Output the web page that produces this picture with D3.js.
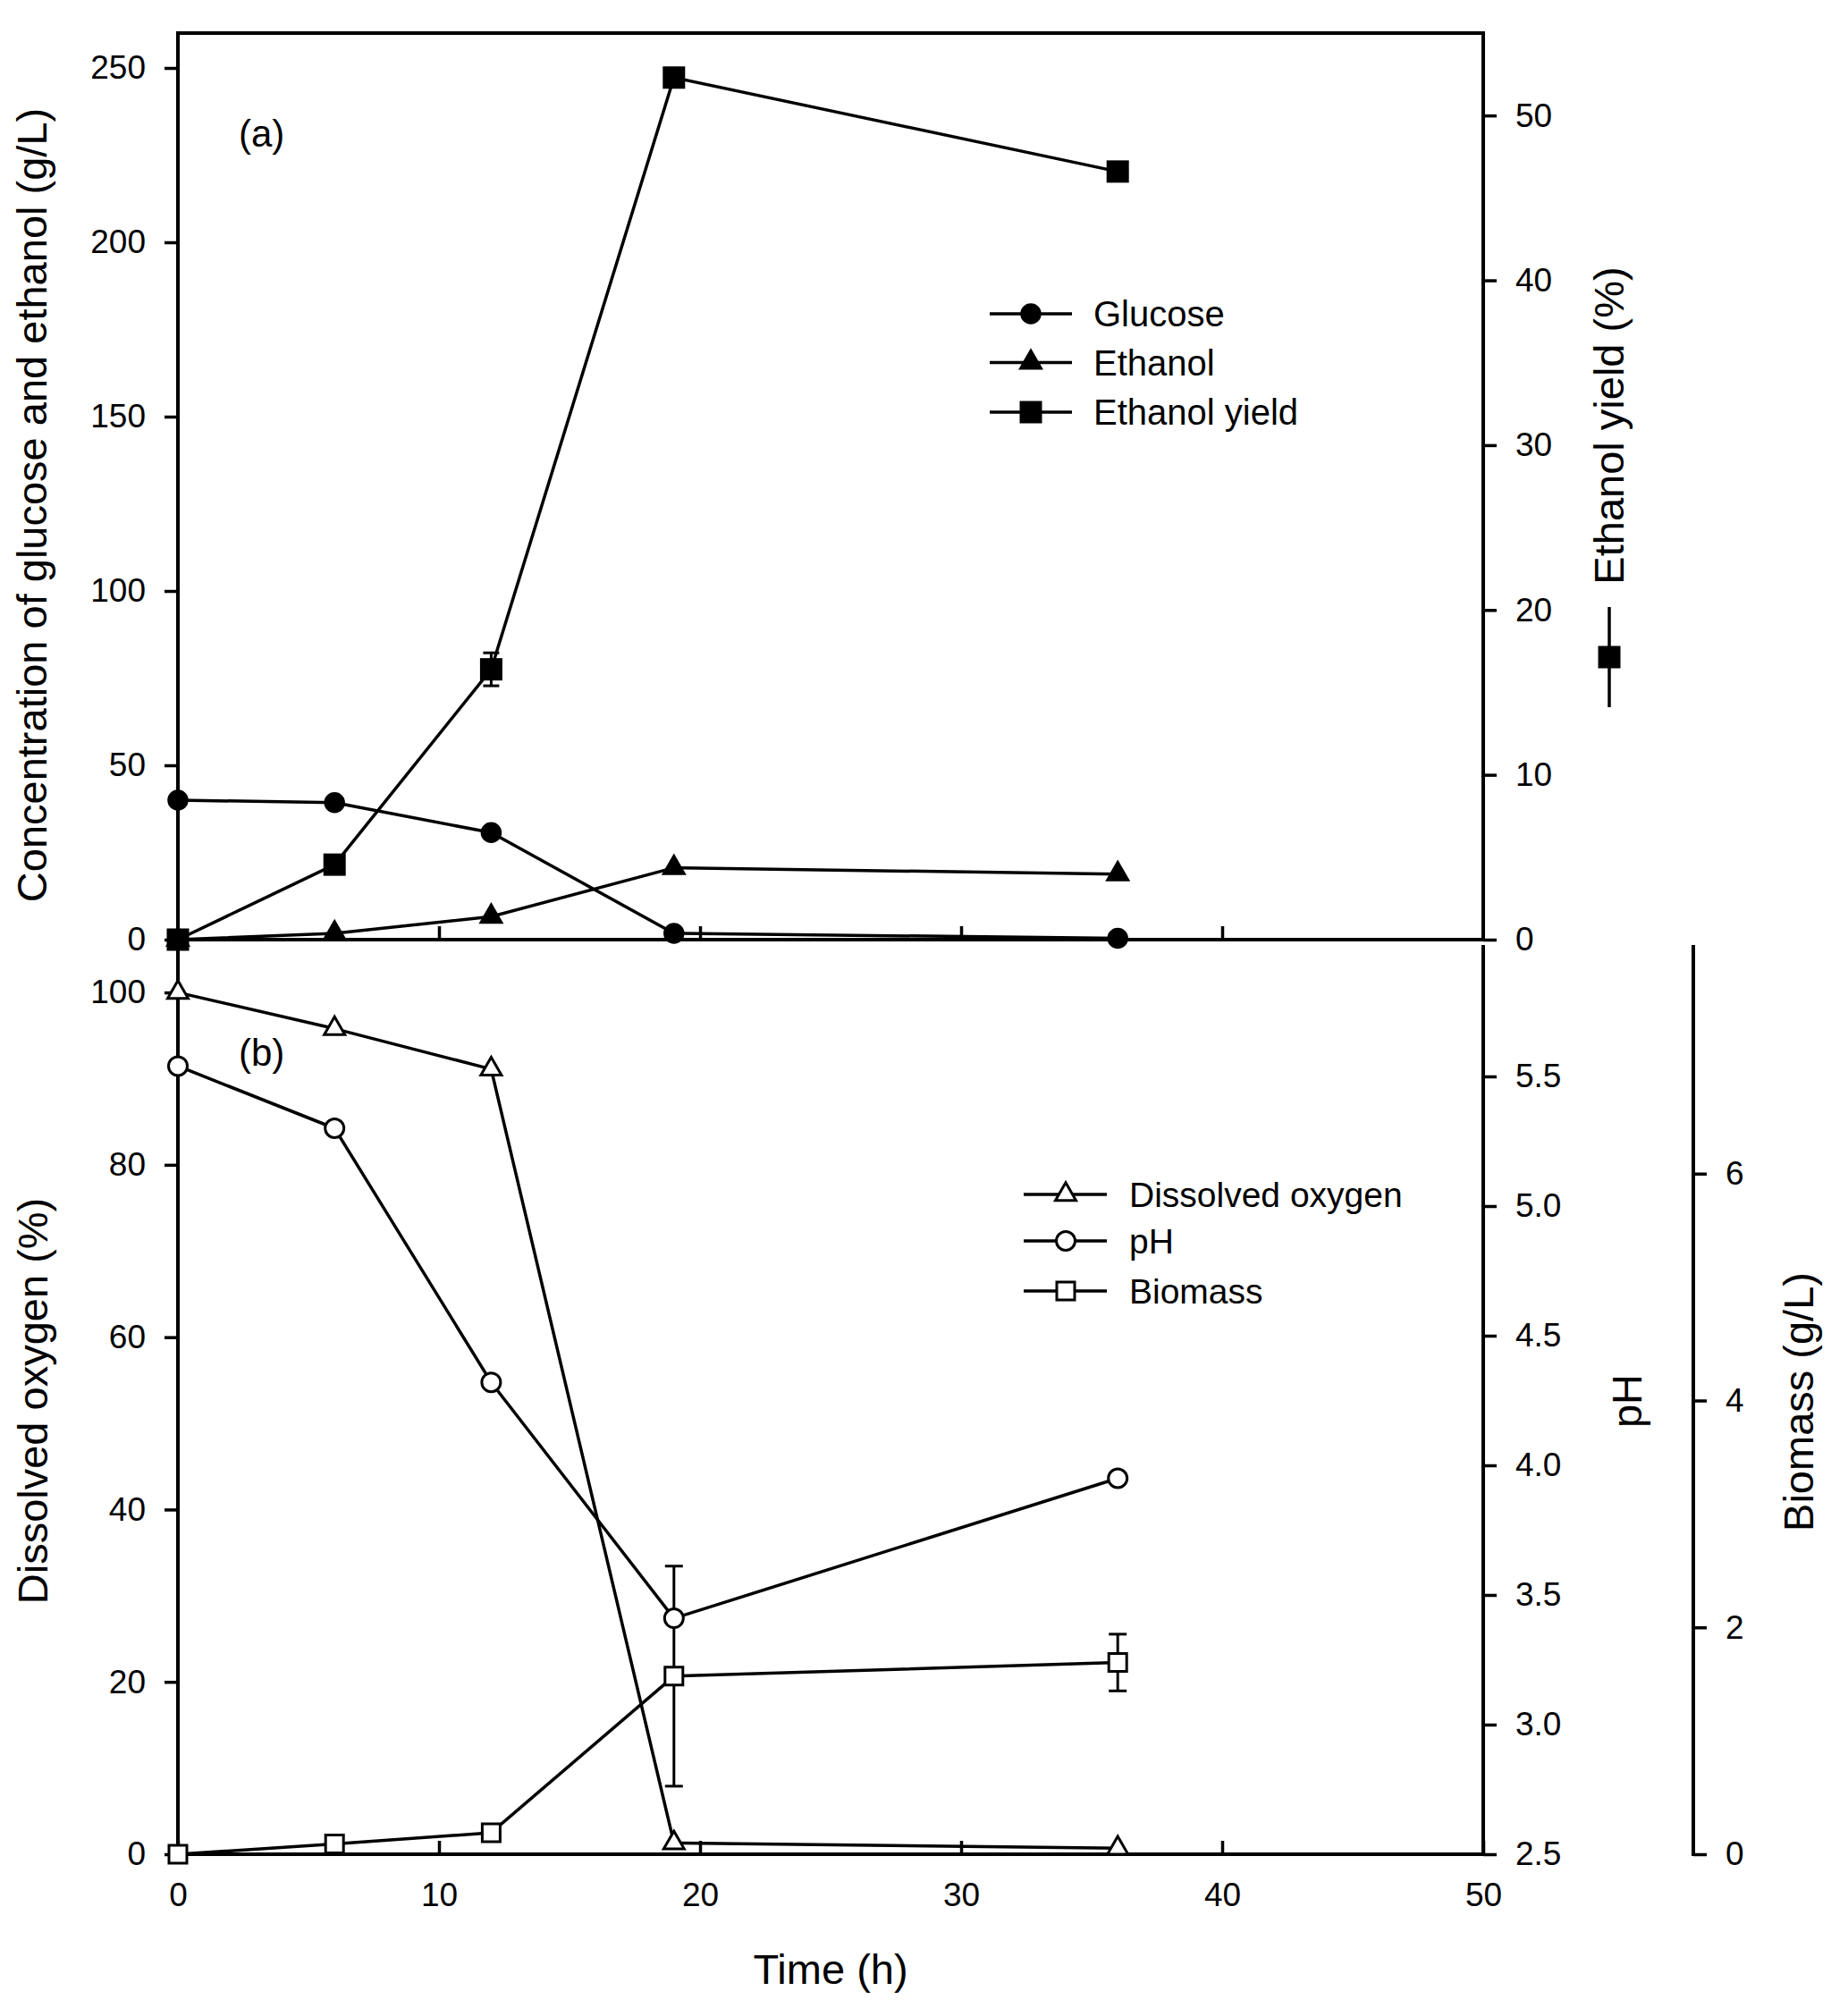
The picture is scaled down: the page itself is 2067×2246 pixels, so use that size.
<!DOCTYPE html>
<html>
<head>
<meta charset="utf-8">
<script src="https://cdn.jsdelivr.net/npm/d3@7/dist/d3.min.js"></script>
<style>
  html, body { margin: 0; padding: 0; background: #fff; }
  svg { display: block; }
  text { font-family: "Liberation Sans", Arial, sans-serif; fill: #000; }
</style>
</head>
<body>
<svg id="chart" width="2067" height="2246"></svg>
<script>
// ---- data ----
const time = [0, 6, 12, 19, 36];
const glucose = [40, 39.3, 30.7, 1.8, 0.4];
const ethanol = [0, 1.8, 6.6, 20.6, 18.8];
const ethanolYield = [0, 4.55, 16.4, 52.3, 46.6];
const ethanolYieldErr = [0, 0, 1.0, 0, 0];
const dissolvedOxygen = [100, 95.8, 91.1, 1.3, 0.7];
const pH = [5.54, 5.30, 4.32, 3.41, 3.95];
const biomass = [0, 0.09, 0.19, 1.57, 1.69];
const biomassErr = [0, 0, 0, 0.97, 0.25];

const xTicks = [0, 10, 20, 30, 40, 50];
const concTicks = [0, 50, 100, 150, 200, 250];
const yieldTicks = [0, 10, 20, 30, 40, 50];
const doTicks = [0, 20, 40, 60, 80, 100];
const phTicks = [2.5, 3.0, 3.5, 4.0, 4.5, 5.0, 5.5];
const bioTicks = [0, 2, 4, 6];

const legendA = ["Glucose", "Ethanol", "Ethanol yield"];
const legendB = ["Dissolved oxygen", "pH", "Biomass"];

// ---- layout ----
const svg = d3.select("#chart");
const L = 199, R = 1659, topA = 37, botA = 1051, topB = 1059, botB = 2074, bioX = 1894;

const x = d3.scaleLinear().domain([0, 50]).range([L, R]);
const yConc = d3.scaleLinear().domain([0, 260]).range([botA, topA]);
const yYield = d3.scaleLinear().domain([0, 55]).range([botA, topA]);
const yDO = d3.scaleLinear().domain([0, 105.3]).range([botB, topB]);
const yPH = d3.scaleLinear().domain([2.5, 6.0]).range([botB, topB]);
const yBio = d3.scaleLinear().domain([0, 8]).range([botB, topB]);

const TICK = 15, PAD = 21, TFS = 37;
const AXW = 4, LW = 3.5;

function styleAxis(g) {
  g.select(".domain").remove();
  g.selectAll(".tick line").attr("stroke", "#000").attr("stroke-width", LW);
  g.selectAll(".tick text").attr("font-size", TFS).attr("fill", "#000")
    .attr("font-family", '"Liberation Sans", Arial, sans-serif');
}

// axes (ticks + labels)
svg.append("g").attr("transform", `translate(${L},0)`)
  .call(d3.axisLeft(yConc).tickValues(concTicks).tickSize(TICK).tickPadding(PAD)).call(styleAxis);
svg.append("g").attr("transform", `translate(${R},0)`)
  .call(d3.axisRight(yYield).tickValues(yieldTicks).tickSize(TICK).tickPadding(PAD)).call(styleAxis);
svg.append("g").attr("transform", `translate(0,${botA})`)
  .call(d3.axisBottom(x).tickValues([10, 20, 30, 40]).tickSize(-TICK).tickFormat("")).call(styleAxis);

svg.append("g").attr("transform", `translate(${L},0)`)
  .call(d3.axisLeft(yDO).tickValues(doTicks).tickSize(TICK).tickPadding(PAD)).call(styleAxis);
svg.append("g").attr("transform", `translate(${R},0)`)
  .call(d3.axisRight(yPH).tickValues(phTicks).tickSize(TICK).tickPadding(PAD).tickFormat(d3.format(".1f"))).call(styleAxis);
svg.append("g").attr("transform", `translate(${bioX},0)`)
  .call(d3.axisRight(yBio).tickValues(bioTicks).tickSize(TICK).tickPadding(PAD)).call(styleAxis);
svg.append("g").attr("transform", `translate(0,${botB})`)
  .call(d3.axisBottom(x).tickValues(xTicks).tickSize(-TICK).tickPadding(32)).call(styleAxis);

// axis lines / frames
const frame = [
  [L, topA, R, topA], [L, topA, L, botB], [R, topA, R, botA], [L, botA, R, botA],
  [R, topB, R, botB], [L, botB, R, botB], [bioX, topB, bioX, botB]
];
svg.append("g").selectAll("line").data(frame).join("line")
  .attr("x1", d => d[0]).attr("y1", d => d[1]).attr("x2", d => d[2]).attr("y2", d => d[3])
  .attr("stroke", "#000").attr("stroke-width", AXW).attr("stroke-linecap", "square");

// ---- helpers ----
const tri = (side) => d3.symbol().type(d3.symbolTriangle).size(side * side * Math.sqrt(3) / 4)();
const circ = (diam) => d3.symbol().type(d3.symbolCircle).size(Math.PI * diam * diam / 4)();
const sq = (side) => d3.symbol().type(d3.symbolSquare).size(side * side)();

const markers = {
  fcircle: { d: circ(23.5), fill: "#000", sw: 0 },
  ftri: { d: tri(28), fill: "#000", sw: 0 },
  fsquare: { d: sq(25), fill: "#000", sw: 0 },
  otri: { d: tri(23), fill: "#fff", sw: 3 },
  ocircle: { d: circ(21), fill: "#fff", sw: 3 },
  osquare: { d: sq(20), fill: "#fff", sw: 3 }
};

function drawSeries(vals, yScale, mk, err, capW) {
  const pts = time.map((t, i) => [x(t), yScale(vals[i])]);
  svg.append("path").attr("d", d3.line()(pts)).attr("fill", "none")
    .attr("stroke", "#000").attr("stroke-width", LW).attr("stroke-linejoin", "round");
  if (err) {
    const g = svg.append("g").attr("stroke", "#000").attr("stroke-width", 3);
    time.forEach((t, i) => {
      if (!err[i]) return;
      const cx = x(t), y1 = yScale(vals[i] - err[i]), y2 = yScale(vals[i] + err[i]);
      g.append("line").attr("x1", cx).attr("x2", cx).attr("y1", y1).attr("y2", y2);
      g.append("line").attr("x1", cx - capW / 2).attr("x2", cx + capW / 2).attr("y1", y1).attr("y2", y1);
      g.append("line").attr("x1", cx - capW / 2).attr("x2", cx + capW / 2).attr("y1", y2).attr("y2", y2);
    });
  }
  return pts;
}
function drawMarkers(pts, mk) {
  const m = markers[mk];
  svg.append("g").selectAll("path").data(pts).join("path")
    .attr("d", m.d).attr("transform", d => `translate(${d[0]},${d[1]})`)
    .attr("fill", m.fill).attr("stroke", "#000").attr("stroke-width", m.sw);
}

// ---- panel a ----
const pG = drawSeries(glucose, yConc);
const pE = drawSeries(ethanol, yConc);
const pY = drawSeries(ethanolYield, yYield, "fsquare", ethanolYieldErr, 18);
drawMarkers(pG, "fcircle");
drawMarkers(pE, "ftri");
drawMarkers(pY, "fsquare");

// ---- panel b ----
const pDO = drawSeries(dissolvedOxygen, yDO);
const pPH = drawSeries(pH, yPH);
const pB = drawSeries(biomass, yBio, "osquare", biomassErr, 20);
drawMarkers(pDO, "otri");
drawMarkers(pPH, "ocircle");
drawMarkers(pB, "osquare");

// ---- legends ----
function legend(items, mks, x1, x2, mx, tx, rows, fs) {
  items.forEach((lab, i) => {
    const y = rows[i];
    svg.append("line").attr("x1", x1).attr("x2", x2).attr("y1", y).attr("y2", y)
      .attr("stroke", "#000").attr("stroke-width", LW);
    const m = markers[mks[i]];
    svg.append("path").attr("d", m.d).attr("transform", `translate(${mx},${y})`)
      .attr("fill", m.fill).attr("stroke", "#000").attr("stroke-width", m.sw);
    svg.append("text").attr("x", tx).attr("y", y).attr("dy", "0.36em")
      .attr("font-size", fs).text(lab);
  });
}
legend(legendA, ["fcircle", "ftri", "fsquare"], 1107, 1199, 1153, 1223, [351, 405.5, 461], 40);
legend(legendB, ["otri", "ocircle", "osquare"], 1145, 1238, 1192, 1263, [1336, 1388, 1444], 39);

// ---- panel labels ----
svg.append("text").attr("x", 267).attr("y", 163.5).attr("font-size", 42).text("(a)");
svg.append("text").attr("x", 267).attr("y", 1192).attr("font-size", 42).text("(b)");

// ---- axis titles ----
function vTitle(txt, bx, cy) {
  svg.append("text").attr("transform", `translate(${bx},${cy}) rotate(-90)`)
    .attr("text-anchor", "middle").attr("font-size", 47).text(txt);
}
vTitle("Concentration of glucose and ethanol (g/L)", 52, 565);
vTitle("Ethanol yield (%)", 1816, 476);
vTitle("Dissolved oxygen (%)", 53, 1567);
vTitle("pH", 1836, 1567);
vTitle("Biomass (g/L)", 2028, 1568);
svg.append("text").attr("x", (L + R) / 2).attr("y", 2219).attr("text-anchor", "middle")
  .attr("font-size", 47).text("Time (h)");

// symbol next to the ethanol-yield title
svg.append("line").attr("x1", 1800).attr("x2", 1800).attr("y1", 679).attr("y2", 791)
  .attr("stroke", "#000").attr("stroke-width", LW);
svg.append("path").attr("d", markers.fsquare.d).attr("transform", "translate(1800,735)")
  .attr("fill", "#000");
</script>
</body>
</html>
